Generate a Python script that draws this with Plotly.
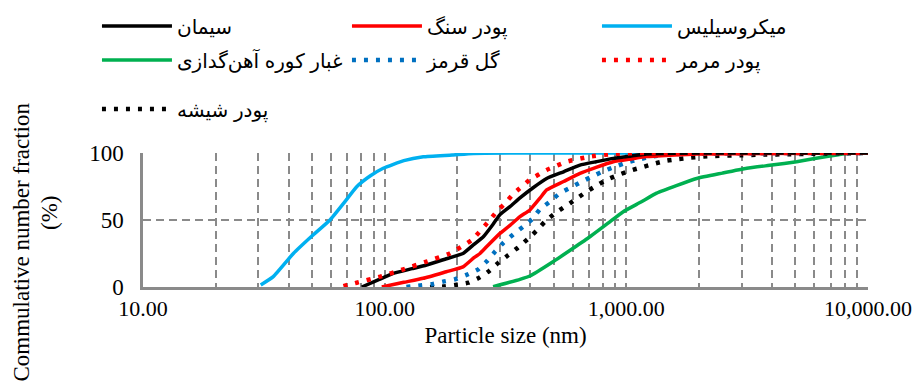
import plotly.graph_objects as go

# ---- data ----
cement_x = [80.4, 95, 108.6, 130, 149, 180, 211, 235, 256, 280, 300, 330, 363, 410, 468, 550, 643, 750, 883, 1050, 1213, 1600, 2500, 10000]
cement_y = [0, 5.7, 10.2, 13.7, 16.4, 21.1, 25, 32, 37.5, 46.5, 54, 60, 66.5, 73.9, 81, 86, 91, 93.5, 96, 97.8, 99.3, 99.8, 100, 100]

stone_x = [97.3, 120, 144.5, 180, 211, 235, 248, 264, 300, 330, 363, 399, 440, 468, 550, 643, 750, 883, 1050, 1213, 1955, 10000]
stone_y = [0, 3.5, 6.5, 11.4, 15, 22.1, 25, 30, 40, 46, 52.5, 57.5, 66.5, 72.4, 78.7, 84.8, 89.3, 93.5, 95.6, 97.3, 99.3, 100]

micro_x = [30.7, 34.6, 41.9, 50, 59.4, 68, 76.6, 87, 98.6, 120, 144.5, 190, 233, 400, 10000]
micro_y = [1.5, 7.7, 25, 38, 50, 63, 74.8, 82.8, 88.6, 94.3, 97.2, 98.5, 99.7, 100, 100]

furnace_x = [281, 363, 399, 499, 600, 707, 840, 971, 1150, 1334, 1955, 2500, 3150, 4000, 5063, 6950, 8408, 10000]
furnace_y = [0.2, 5.7, 8.2, 19, 28.7, 37.5, 47.6, 56.2, 63.4, 70, 81, 85, 88.6, 91, 93.5, 97.8, 99.8, 100]

redclay_x = [123, 137.8, 156, 174.6, 195, 218, 244, 264, 286, 310, 340.6, 374, 411, 439, 483, 531, 585, 653, 729, 807, 897, 1002, 1130, 1272, 1421, 1600, 2500, 10000]
redclay_y = [0, 1, 2, 4, 5.7, 9, 13.2, 19, 26.3, 33, 39.3, 45, 51.3, 58, 63.7, 70, 74, 78.6, 82.8, 86.6, 89.8, 92.8, 95.3, 97.3, 98.5, 99.2, 99.8, 100]

marble_x = [67.5, 76.6, 95.7, 119.5, 149, 186, 229, 268.5, 290, 315, 341, 399, 468, 566, 707, 883, 1200, 10000]
marble_y = [0.7, 3.2, 7.7, 13.2, 18.9, 25, 35, 48.7, 56, 62.5, 69.5, 80, 87.3, 93.5, 97.3, 99.3, 100, 100]

glass_x = [154, 174.6, 196, 222, 246.5, 271, 295, 325, 357, 390, 425, 460, 507, 557, 613, 674, 749, 828, 925, 1035, 1157, 1291, 1467, 1637, 1843, 2079, 2323, 2951, 3690, 4757, 5936, 7650, 10000]
glass_y = [0, 0.3, 1.5, 3.2, 7, 12, 18, 23.9, 29.6, 35.6, 42, 48.7, 55, 60, 65, 70.4, 75.4, 80, 83.6, 86.8, 89.3, 91.8, 94.3, 95.5, 96.5, 97.3, 97.8, 98.3, 98.8, 99.1, 99.4, 99.8, 100]

names = {
    "cement": "سیمان",
    "stone": "پودر سنگ",
    "micro": "میکروسیلیس",
    "furnace": "غبار کوره آهن‌گدازی",
    "redclay": "گل قرمز",
    "marble": "پودر مرمر",
    "glass": "پودر شیشه",
}

x_tickvals = [10, 100, 1000, 10000]

SERIF = "Liberation Serif, Times New Roman, serif"
LEGFONT = "Arial, Liberation Sans, DejaVu Sans, sans-serif"
DOT = "4px,8px"

fig = go.Figure()

def add(x, y, key, color, legend, rank, dash="solid", width=3.5):
    fig.add_trace(go.Scatter(
        x=x, y=y, mode="lines", name=names[key],
        line=dict(color=color, width=width, dash=dash, shape="spline", smoothing=0.4),
        legend=legend, legendrank=rank, hoverinfo="skip"))

add(micro_x, micro_y, "micro", "#00B0F0", "legend", 3)
add(furnace_x, furnace_y, "furnace", "#00B050", "legend2", 1)
add(glass_x, glass_y, "glass", "#000000", "legend3", 1, dash=DOT, width=4.5)
add(redclay_x, redclay_y, "redclay", "#0070C0", "legend2", 2, dash=DOT, width=4.5)
add(stone_x, stone_y, "stone", "#FF0000", "legend", 2)
add(cement_x, cement_y, "cement", "#000000", "legend", 1)
add(marble_x, marble_y, "marble", "#FF0000", "legend2", 3, dash=DOT, width=4.5)

GRID = "#8a8a8a"
legend_common = dict(orientation="h", xanchor="left", yanchor="middle",
                     entrywidth=165, entrywidthmode="pixels", itemwidth=70,
                     font=dict(family=LEGFONT, size=20, color="#000000"),
                     bgcolor="rgba(0,0,0,0)", borderwidth=0, itemclick=False)

fig.update_layout(
    width=915, height=387,
    margin=dict(l=143, r=47, t=153, b=100, autoexpand=False),
    paper_bgcolor="white", plot_bgcolor="white",
    showlegend=True,
    legend=dict(x=-0.0635, y=1.948, **legend_common),
    legend2=dict(x=-0.0635, y=1.694, **legend_common),
    legend3=dict(x=-0.0635, y=1.328, **legend_common),
    xaxis=dict(
        type="log", range=[1, 4], tickvals=x_tickvals, tickformat=",.2f",
        automargin=False,
        showgrid=True, gridcolor=GRID, gridwidth=2, griddash="8px,5px",
        minor=dict(dtick="D1", showgrid=True, gridcolor=GRID, gridwidth=1.5, griddash="8px,5px", ticks=""),
        showline=True, linecolor=GRID, linewidth=2.5,
        ticks="", tickfont=dict(family=SERIF, size=22, color="#000000"),
        title=dict(text="Particle size (nm)", font=dict(family=SERIF, size=23, color="#000000"), standoff=7),
        zeroline=False,
    ),
    yaxis=dict(
        range=[0, 100], tickvals=[0, 50, 100], automargin=False,
        showgrid=True, gridcolor=GRID, gridwidth=2, griddash="8px,5px",
        showline=True, linecolor=GRID, linewidth=2.5,
        ticks="", ticklabelstandoff=12,
        tickfont=dict(family=SERIF, size=23, color="#000000"),
        zeroline=False,
    ),
)

fig.add_annotation(text="Commulative number fraction", textangle=-90,
                   xref="paper", yref="paper", x=(21 - 143) / 725, y=(287 - 242.5) / 134,
                   xanchor="center", yanchor="middle", showarrow=False,
                   font=dict(family=SERIF, size=23, color="#000000"))
fig.add_annotation(text="(%)", textangle=-90,
                   xref="paper", yref="paper", x=(49 - 143) / 725, y=(287 - 213) / 134,
                   xanchor="center", yanchor="middle", showarrow=False,
                   font=dict(family=SERIF, size=23, color="#000000"))

fig.write_html("out.html", config={"displayModeBar": False},
               post_script="document.body.style.margin='0px';")
